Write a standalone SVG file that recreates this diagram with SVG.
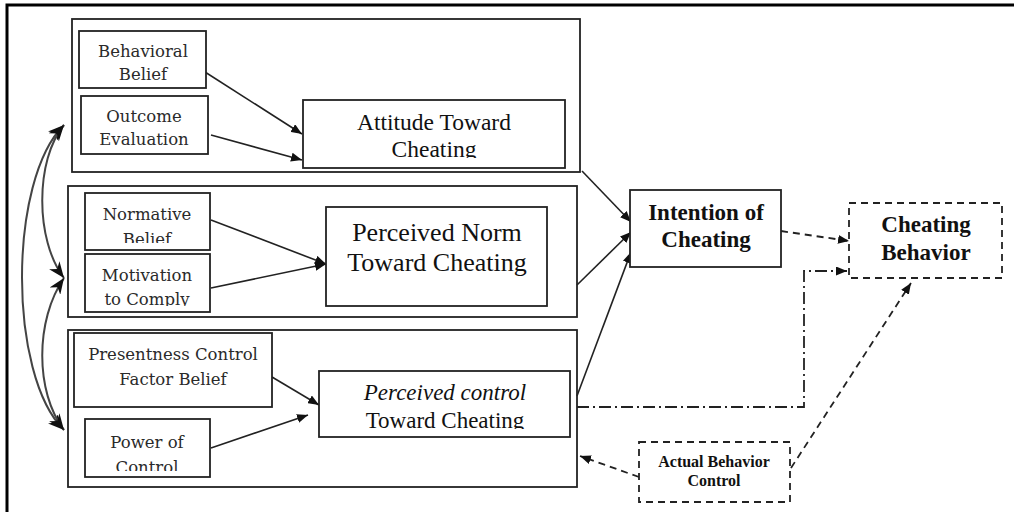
<svg xmlns="http://www.w3.org/2000/svg" width="1014" height="512" viewBox="0 0 1014 512">
<style>
.box{fill:#fff;stroke:#222;stroke-width:1.8}
.grp{fill:none;stroke:#222;stroke-width:1.8}
.dbox{fill:#fff;stroke:#222;stroke-width:1.8;stroke-dasharray:7 5}
.ln{fill:none;stroke:#222;stroke-width:1.6}
.dash{fill:none;stroke:#222;stroke-width:1.8;stroke-dasharray:7 5}
.dd{fill:none;stroke:#222;stroke-width:1.8;stroke-dasharray:12 4 2 4}
.cv{fill:none;stroke:#444;stroke-width:2}
.slab{font-family:"DejaVu Serif",serif;font-size:16.5px;fill:#2a2a2a;text-anchor:middle}
.tm{font-family:"Liberation Serif",serif;fill:#111;text-anchor:middle}
.tb{font-family:"Liberation Serif",serif;font-weight:bold;fill:#111;text-anchor:middle}
</style>
<defs>
<marker id="ah" viewBox="0 0 10 10" refX="10" refY="5" markerWidth="11" markerHeight="9" markerUnits="userSpaceOnUse" orient="auto-start-reverse" preserveAspectRatio="none">
<path d="M0,0 L10,5 L0,10 z" fill="#111"/>
</marker>
<marker id="ahb" viewBox="0 0 10 10" refX="10" refY="5" markerWidth="16" markerHeight="13" markerUnits="userSpaceOnUse" orient="auto-start-reverse" preserveAspectRatio="none">
<path d="M0,0 L10,5 L0,10 L3,5 z" fill="#111"/>
</marker>
<clipPath id="cAtt"><rect x="303" y="100" width="262" height="58"/></clipPath>
<clipPath id="cNorm"><rect x="85" y="193" width="125" height="50"/></clipPath>
<clipPath id="cMot"><rect x="85" y="254" width="125" height="52"/></clipPath>
<clipPath id="cPow"><rect x="85" y="419" width="125" height="52"/></clipPath>
<clipPath id="cPc"><rect x="319" y="371" width="251" height="58"/></clipPath>
</defs>
<rect width="1014" height="512" fill="#fff"/>
<!-- frame -->
<path d="M7,512 L7,5 L1014,5" fill="none" stroke="#000" stroke-width="3"/>

<!-- group containers -->
<g id="group-attitude"><rect class="grp" x="72" y="19" width="508" height="153"/></g>
<g id="group-norm"><rect class="grp" x="68" y="186" width="509" height="131"/></g>
<g id="group-control"><rect class="grp" x="68" y="330" width="509" height="157"/></g>

<g id="connectors">
<path class="ln" d="M205,72 L302,134" marker-end="url(#ah)"/>
<path class="ln" d="M211,135 L302,160" marker-end="url(#ah)"/>
<path class="ln" d="M582,171 L631,222" marker-end="url(#ah)"/>
<path class="ln" d="M211,220 L326,264" marker-end="url(#ah)"/>
<path class="ln" d="M211,288 L326,264" marker-end="url(#ah)"/>
<path class="ln" d="M577,285 L631,232" marker-end="url(#ah)"/>
<path class="ln" d="M577,396 L631,252" marker-end="url(#ah)"/>
<path class="ln" d="M272,377 L319,405" marker-end="url(#ah)"/>
<path class="ln" d="M211,448 L308,415" marker-end="url(#ah)"/>
<path class="dash" d="M781,231 L849,241" marker-end="url(#ah)"/>
<path class="dd" d="M577,407 L804,407 L804,271 L847,271" marker-end="url(#ah)"/>
<path class="dash" d="M639,477 L580,456" marker-end="url(#ah)"/>
<path class="dash" d="M791,468 L911,283" marker-end="url(#ah)"/>
<path class="cv" d="M64,125 C8,180 8,375 64,430" marker-start="url(#ahb)" marker-end="url(#ahb)"/>
<path class="cv" d="M64,125 C35,160 35,240 64,278" marker-start="url(#ahb)" marker-end="url(#ahb)"/>
<path class="cv" d="M64,278 C35,320 35,392 64,430" marker-start="url(#ahb)" marker-end="url(#ahb)"/>
</g>

<g id="behavioral-belief">
<rect class="box" x="79" y="31" width="127" height="57"/>
<text class="slab" x="143" y="57">Behavioral</text>
<text class="slab" x="143" y="80">Belief</text>
</g>
<g id="outcome-evaluation">
<rect class="box" x="81" y="96" width="127" height="58"/>
<text class="slab" x="144" y="122">Outcome</text>
<text class="slab" x="144" y="145">Evaluation</text>
</g>
<g id="attitude">
<rect class="box" x="303" y="100" width="262" height="68"/>
<g clip-path="url(#cAtt)">
<text class="tm" x="434" y="130" font-size="23.5">Attitude Toward</text>
<text class="tm" x="434" y="157" font-size="23.5">Cheating</text>
</g>
</g>
<g id="normative-belief">
<rect class="box" x="85" y="193" width="125" height="57"/>
<g clip-path="url(#cNorm)">
<text class="slab" x="147" y="220">Normative</text>
<text class="slab" x="147" y="245">Belief</text>
</g>
</g>
<g id="motivation-to-comply">
<rect class="box" x="85" y="254" width="125" height="58"/>
<g clip-path="url(#cMot)">
<text class="slab" x="147" y="281">Motivation</text>
<text class="slab" x="147" y="305">to Comply</text>
</g>
</g>
<g id="perceived-norm">
<rect class="box" x="326" y="207" width="221" height="99"/>
<text class="tm" x="437" y="241" font-size="26">Perceived Norm</text>
<text class="tm" x="437" y="271" font-size="26">Toward Cheating</text>
</g>
<g id="presentness-control">
<rect class="box" x="74" y="333" width="198" height="74"/>
<text class="slab" x="173" y="360">Presentness Control</text>
<text class="slab" x="173" y="385">Factor Belief</text>
</g>
<g id="power-of-control">
<rect class="box" x="85" y="419" width="125" height="58"/>
<g clip-path="url(#cPow)">
<text class="slab" x="147" y="448">Power of</text>
<text class="slab" x="147" y="473">Control</text>
</g>
</g>
<g id="perceived-control">
<rect class="box" x="319" y="371" width="251" height="66"/>
<g clip-path="url(#cPc)">
<text class="tm" x="445" y="400" font-size="23" font-style="italic">Perceived control</text>
<text class="tm" x="445" y="428" font-size="23">Toward Cheating</text>
</g>
</g>
<g id="intention">
<rect class="box" x="630" y="190" width="151" height="77"/>
<text class="tb" x="706" y="220" font-size="23">Intention of</text>
<text class="tb" x="706" y="247" font-size="23">Cheating</text>
</g>
<g id="cheating-behavior">
<rect class="dbox" x="849" y="203" width="153" height="75"/>
<text class="tb" x="926" y="232" font-size="23">Cheating</text>
<text class="tb" x="926" y="260" font-size="23">Behavior</text>
</g>
<g id="actual-behavior-control">
<rect class="dbox" x="639" y="442" width="151" height="60"/>
<text class="tb" x="714" y="467" font-size="16">Actual Behavior</text>
<text class="tb" x="714" y="486" font-size="16">Control</text>
</g>
</svg>
